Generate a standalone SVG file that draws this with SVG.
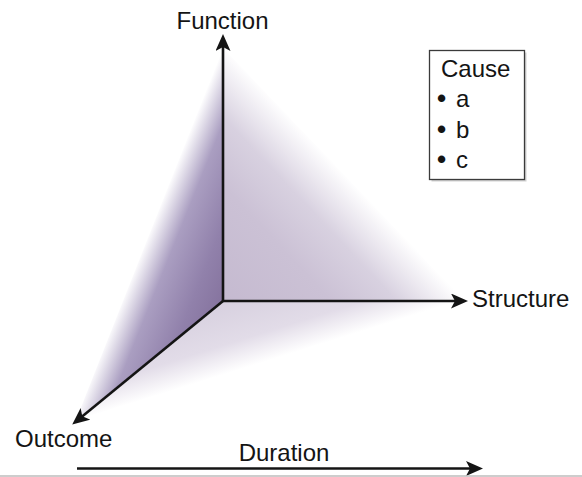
<svg xmlns="http://www.w3.org/2000/svg" width="582" height="477" viewBox="0 0 582 477">
<style>
.lbl{font-family:"Liberation Sans",Arial,sans-serif;font-size:24px;fill:#141414}
.bul{font-family:"Liberation Sans",Arial,sans-serif;font-size:26px;font-weight:bold;fill:#141414}
.axis{stroke:#141414;stroke-width:2.6;fill:none}
</style>
<defs>
<marker id="ah" markerUnits="userSpaceOnUse" viewBox="0 0 17 15" markerWidth="17" markerHeight="15" refX="5" refY="7.5" orient="auto">
<path d="M0,0 L17,7.5 L0,15 L4,7.5 z" fill="#141414"/>
</marker>
<linearGradient id="gLeft" gradientUnits="userSpaceOnUse" x1="149" y1="232" x2="236" y2="267">
<stop offset="0" stop-color="#ffffff"/>
<stop offset="0.3" stop-color="#aa9ec1"/>
<stop offset="0.7" stop-color="#9181ab"/>
<stop offset="1" stop-color="#86749f"/>
</linearGradient>
<linearGradient id="gBack" gradientUnits="userSpaceOnUse" x1="344" y1="173" x2="216" y2="294">
<stop offset="0" stop-color="#ffffff"/>
<stop offset="0.28" stop-color="#d8d1e0"/>
<stop offset="0.55" stop-color="#cbc1d5"/>
<stop offset="1" stop-color="#c5bad0"/>
</linearGradient>
<linearGradient id="gBottom" gradientUnits="userSpaceOnUse" x1="270" y1="360" x2="249" y2="293">
<stop offset="0" stop-color="#ffffff"/>
<stop offset="0.4" stop-color="#e2dce8"/>
<stop offset="1" stop-color="#d7d0df"/>
</linearGradient>
</defs>
<rect width="582" height="477" fill="#ffffff"/>
<g id="planes">
<polygon points="223,48 223,301 76,420" fill="url(#gLeft)"/>
<polygon points="223,48 223,301 465,301" fill="url(#gBack)"/>
<polygon points="223,301 465,301 76,420" fill="url(#gBottom)"/>
</g>
<g id="connectors">
<line class="axis" x1="223" y1="301" x2="223" y2="46" marker-end="url(#ah)"/>
<line class="axis" x1="222" y1="301" x2="456" y2="301" marker-end="url(#ah)"/>
<line class="axis" x1="223" y1="301" x2="81.5" y2="417" marker-end="url(#ah)"/>
<line class="axis" x1="77" y1="468.5" x2="471" y2="468.5" marker-end="url(#ah)"/>
</g>
<g id="function"><text class="lbl" x="222.5" y="29" text-anchor="middle">Function</text></g>
<g id="structure"><text class="lbl" x="472" y="307">Structure</text></g>
<g id="outcome"><text class="lbl" x="15" y="447">Outcome</text></g>
<g id="duration"><text class="lbl" x="284" y="460.5" text-anchor="middle">Duration</text></g>
<g id="cause">
<rect x="431.5" y="52.5" width="95" height="129" fill="#9a9a9a" opacity="0.45"/>
<rect x="429.5" y="50.5" width="95" height="129" fill="#ffffff" stroke="#3a3a3a" stroke-width="1.3"/>
<text class="lbl" x="441" y="77">Cause</text>
<text class="bul" x="437" y="107">•</text><text class="lbl" x="456" y="107">a</text>
<text class="bul" x="437" y="138">•</text><text class="lbl" x="456" y="138">b</text>
<text class="bul" x="437" y="168">•</text><text class="lbl" x="456" y="168">c</text>
</g>
<line x1="0" y1="476" x2="582" y2="476" stroke="#bdbdbd" stroke-width="1.5"/>
</svg>
